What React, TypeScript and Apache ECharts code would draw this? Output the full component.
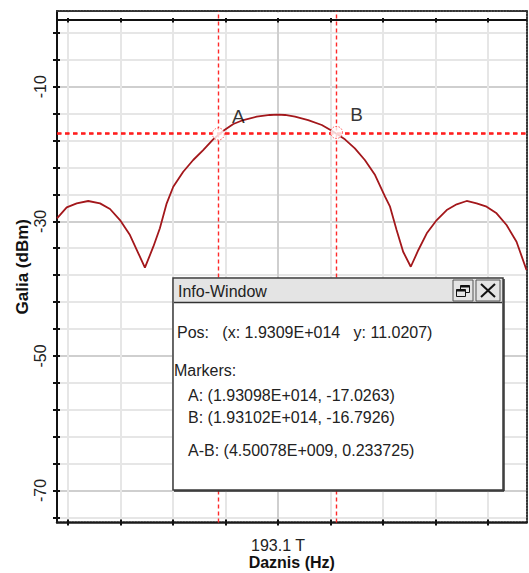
import React, { useEffect, useRef } from "react";
import * as echarts from "echarts";

// Centre frequency of the span (THz); the trace is stored as an offset from it in GHz.
const CENTER_THZ = 193.1;

const TRACE_OFFSET_GHZ = [
  -8.42, -8.05, -7.67, -7.23, -6.78, -6.4, -6.02, -5.64, -5.32, -5.07, -4.75, -4.5, -4.24,
  -3.99, -3.61, -3.23, -2.85, -2.47, -2.08, -1.7, -1.32, -0.81, -0.31, 0, 0.27, 0.65, 1.15,
  1.67, 2.05, 2.55, 2.93, 3.31, 3.7, 4.08, 4.27, 4.52, 4.77, 5.06, 5.35, 5.67, 6.05, 6.43,
  6.81, 7.19, 7.57, 7.95, 8.33, 8.71, 9.09, 9.47,
];
const TRACE_LEVEL_DBM = [
  -29.55, -27.92, -27.33, -26.98, -27.33, -28.17, -29.81, -32.04, -34.75, -36.89, -33.77,
  -31.04, -27.33, -24.86, -22.63, -20.89, -19.41, -17.82, -16.54, -15.54, -14.95, -14.46,
  -14.2, -14.15, -14.2, -14.46, -14.95, -15.69, -16.54, -17.82, -19.15, -20.89, -23.12,
  -26.34, -27.83, -31.29, -34.52, -36.75, -34.26, -31.78, -29.81, -28.32, -27.47, -26.98,
  -27.33, -27.83, -28.81, -30.55, -33.03, -37.23,
];

// Axis extents and tick positions
const X_MIN = -8.42;
const X_MAX = 9.47;
const X_TICKS = [-8, -6, -4, -2, 0, 2, 4, 6, 8];
const X_LABELS = [0];
const Y_MIN = -74.75;
const Y_MAX = 1.25;
const Y_TICKS = [
  -74, -70, -66, -62, -58, -54, -50, -46, -42, -38, -34, -30, -26, -22, -18, -14, -10, -6, -2,
];
const Y_LABELS = [-70, -50, -30, -10];

// Markers
const MARKER_NAMES = ["A", "B"];
const MARKER_OFFSET_GHZ = [-2.27, 2.23];
const MARKER_LEVEL_DBM = [-17.0263, -16.7926];

// Info window contents
const INFO_TITLE = "Info-Window";
const INFO_POS = "Pos:   (x: 1.9309E+014   y: 11.0207)";
const INFO_MARKERS = "Markers:";
const INFO_ROWS = [
  "A: (1.93098E+014, -17.0263)",
  "B: (1.93102E+014, -16.7926)",
  "A-B: (4.50078E+009, 0.233725)",
];

const FONT = "'Liberation Sans', Arial, sans-serif";
const INK = "#111";
const HIDDEN = { show: false };
const DOTTED = { color: "#333", width: 2, type: [1.5, 1.5] as number[] };

function infoWindow() {
  const textStyle = (text: string) => ({
    text,
    fill: "#222",
    fontSize: 16,
    fontFamily: FONT,
    verticalAlign: "middle",
    align: "left",
  });
  const bar = "#e4e4e4";
  const parts: any[] = [
    { type: "rect", shape: { x: 173, y: 278, width: 330, height: 212 }, style: { fill: "#fff", stroke: "#3a3a3a", lineWidth: 1.5 } },
    { type: "line", shape: { x1: 504, y1: 279, x2: 504, y2: 491 }, style: { stroke: "#333", lineWidth: 1.5 } },
    { type: "line", shape: { x1: 174, y1: 491, x2: 504, y2: 491 }, style: { stroke: "#333", lineWidth: 1.5 } },
    { type: "rect", shape: { x: 174, y: 279, width: 328, height: 23 }, style: { fill: bar } },
    { type: "line", shape: { x1: 174, y1: 302.5, x2: 502, y2: 302.5 }, style: { stroke: "#333", lineWidth: 1.5 } },
    { type: "text", x: 178, y: 291, style: textStyle(INFO_TITLE) },
    // restore button
    { type: "rect", shape: { x: 453, y: 280, width: 20, height: 21 }, style: { fill: bar, stroke: "#555", lineWidth: 1 } },
    { type: "rect", shape: { x: 460.5, y: 285.5, width: 9, height: 7 }, style: { fill: "none", stroke: INK, lineWidth: 1 } },
    { type: "line", shape: { x1: 460.5, y1: 286.5, x2: 469.5, y2: 286.5 }, style: { stroke: INK, lineWidth: 2 } },
    { type: "rect", shape: { x: 456.5, y: 289.5, width: 9, height: 7 }, style: { fill: bar, stroke: INK, lineWidth: 1 } },
    { type: "line", shape: { x1: 456.5, y1: 290.5, x2: 465.5, y2: 290.5 }, style: { stroke: INK, lineWidth: 2 } },
    // close button
    { type: "rect", shape: { x: 476, y: 280, width: 24, height: 21 }, style: { fill: bar, stroke: "#555", lineWidth: 1 } },
    { type: "line", shape: { x1: 481, y1: 284, x2: 495, y2: 297 }, style: { stroke: INK, lineWidth: 2 } },
    { type: "line", shape: { x1: 495, y1: 284, x2: 481, y2: 297 }, style: { stroke: INK, lineWidth: 2 } },
    // body text
    { type: "text", x: 177, y: 332, style: textStyle(INFO_POS) },
    { type: "text", x: 174, y: 370, style: textStyle(INFO_MARKERS) },
    { type: "text", x: 188, y: 395, style: textStyle(INFO_ROWS[0]) },
    { type: "text", x: 188, y: 417, style: textStyle(INFO_ROWS[1]) },
    { type: "text", x: 188, y: 450.5, style: textStyle(INFO_ROWS[2]) },
  ];
  // keep the window above the plot, in drawing order
  const windowParts = parts.map((p, i) => ({ ...p, z: 100, z2: i }));
  // blank strip between the outer dotted frame and the upper scale line
  const strip = {
    type: "rect",
    z: 1,
    shape: { x: 58.5, y: 12.5, width: 466.5, height: 5.5 },
    style: { fill: "#fff" },
    silent: true,
  };
  return [strip, ...windowParts];
}

function buildOption() {
  const tickLine = { color: INK, width: 2 };
  const baseX = { type: "value", min: X_MIN, max: X_MAX, gridIndex: 0 };
  const baseY = { type: "value", min: Y_MIN, max: Y_MAX, gridIndex: 0 };

  return {
    animation: false,
    backgroundColor: "#fff",
    textStyle: { fontFamily: FONT },
    grid: {
      left: 57,
      right: 2.5,
      top: 11,
      bottom: 50.5,
      containLabel: false,
      outerBoundsMode: "none",
    },
    xAxis: [
      {
        ...baseX,
        position: "bottom",
        axisLine: { onZero: false, lineStyle: { color: "#1a1a1a", width: 2.5, type: [1.5, 1.5] } },
        axisTick: { show: true, inside: false, length: 3, customValues: X_TICKS, lineStyle: tickLine },
        axisLabel: {
          show: true,
          customValues: X_LABELS,
          formatter: () => `${CENTER_THZ} T`,
          fontSize: 16,
          color: "#222",
          margin: 15,
          fontFamily: FONT,
        },
        splitLine: { show: true, lineStyle: { color: "#e6e6e6", width: 2 } },
        name: "Daznis (Hz)",
        nameLocation: "middle",
        nameGap: 32,
        nameMoveOverlap: false,
        nameTextStyle: { fontWeight: "bold", fontSize: 16, color: INK, fontFamily: FONT, lineHeight: 16 },
      },
      {
        ...baseX,
        position: "bottom",
        axisLine: { show: false, onZero: false },
        axisTick: { show: true, inside: true, length: 3, customValues: X_TICKS, lineStyle: tickLine },
        axisLabel: HIDDEN,
        splitLine: HIDDEN,
      },
      {
        ...baseX,
        position: "top",
        axisLine: { show: true, onZero: true, onZeroAxisIndex: 0, lineStyle: { color: INK, width: 2 } },
        axisTick: { show: true, inside: false, length: 3, customValues: X_TICKS, lineStyle: tickLine },
        axisLabel: HIDDEN,
        splitLine: HIDDEN,
      },
      {
        ...baseX,
        position: "top",
        axisLine: { show: false, onZero: true, onZeroAxisIndex: 0 },
        axisTick: { show: true, inside: true, length: 3, customValues: X_TICKS, lineStyle: tickLine },
        axisLabel: HIDDEN,
        splitLine: HIDDEN,
      },
      {
        ...baseX,
        position: "top",
        axisLine: { show: true, onZero: false, lineStyle: DOTTED },
        axisTick: HIDDEN,
        axisLabel: HIDDEN,
        splitLine: HIDDEN,
      },
      {
        ...baseX,
        position: "bottom",
        axisLine: { show: false, onZero: false },
        axisTick: { show: false, customValues: X_LABELS },
        axisLabel: HIDDEN,
        splitLine: { show: true, lineStyle: { color: "#cfcfcf", width: 2 } },
      },
    ],
    yAxis: [
      {
        ...baseY,
        position: "left",
        axisLine: { show: true, onZero: false, lineStyle: { color: INK, width: 2 } },
        axisTick: { show: true, inside: false, length: 4, customValues: Y_TICKS, lineStyle: tickLine },
        axisLabel: {
          show: true,
          customValues: Y_LABELS,
          rotate: 90,
          fontSize: 16,
          color: "#222",
          margin: 9,
          fontFamily: FONT,
        },
        splitLine: { show: true, lineStyle: { color: "#e6e6e6", width: 2 } },
        name: "Galia (dBm)",
        nameLocation: "middle",
        nameRotate: 90,
        nameGap: 26,
        nameMoveOverlap: false,
        nameTextStyle: { fontWeight: "bold", fontSize: 17, color: INK, fontFamily: FONT },
      },
      {
        ...baseY,
        position: "left",
        axisLine: { show: false, onZero: false },
        axisTick: { show: true, inside: true, length: 3, customValues: Y_TICKS, lineStyle: tickLine },
        axisLabel: HIDDEN,
        splitLine: HIDDEN,
      },
      {
        ...baseY,
        position: "right",
        axisLine: { show: true, onZero: false, lineStyle: DOTTED },
        axisTick: HIDDEN,
        axisLabel: HIDDEN,
        splitLine: HIDDEN,
      },
      {
        ...baseY,
        position: "left",
        axisLine: { show: false, onZero: false },
        axisTick: { show: false, customValues: Y_LABELS },
        axisLabel: HIDDEN,
        splitLine: { show: true, lineStyle: { color: "#cfcfcf", width: 2 } },
      },
    ],
    series: [
      {
        type: "line",
        xAxisIndex: 0,
        yAxisIndex: 0,
        data: TRACE_OFFSET_GHZ.map((x, i) => [x, TRACE_LEVEL_DBM[i]]),
        showSymbol: false,
        symbol: "none",
        clip: true,
        z: 3,
        lineStyle: { color: "#a3171b", width: 1.8 },
        markLine: {
          silent: true,
          symbol: "none",
          animation: false,
          label: { show: false },
          data: [
            ...MARKER_OFFSET_GHZ.map((x) => ({
              xAxis: x,
              lineStyle: { color: "#ff2a2a", width: 1.4, type: [4, 3] },
            })),
            ...MARKER_LEVEL_DBM.map((y) => ({
              yAxis: y,
              lineStyle: { color: "#ff1010", width: 1.6, type: [4.5, 3.5] },
            })),
          ],
        },
      },
      {
        type: "scatter",
        xAxisIndex: 0,
        yAxisIndex: 0,
        z: 5,
        symbol: "circle",
        symbolSize: 12,
        data: MARKER_OFFSET_GHZ.map((x, i) => ({ name: MARKER_NAMES[i], value: [x, MARKER_LEVEL_DBM[i]] })),
        itemStyle: { color: "#fff", borderColor: "#ff2a2a", borderWidth: 1, borderType: [1.5, 1.5] },
        label: {
          show: true,
          formatter: "{b}",
          position: "inside",
          offset: [20, -18],
          fontSize: 19,
          color: "#000",
          fontFamily: FONT,
        },
      },
    ],
    graphic: infoWindow(),
  };
}

export default function App() {
  const ref = useRef<HTMLDivElement>(null);

  useEffect(() => {
    if (!ref.current) return;
    const chart = echarts.init(ref.current, null, { renderer: "svg" });
    chart.setOption(buildOption() as any);
    return () => chart.dispose();
  }, []);

  return (
    <div
      ref={ref}
      style={{ position: "fixed", left: 0, top: 0, width: 529, height: 573, background: "#fff" }}
    />
  );
}
